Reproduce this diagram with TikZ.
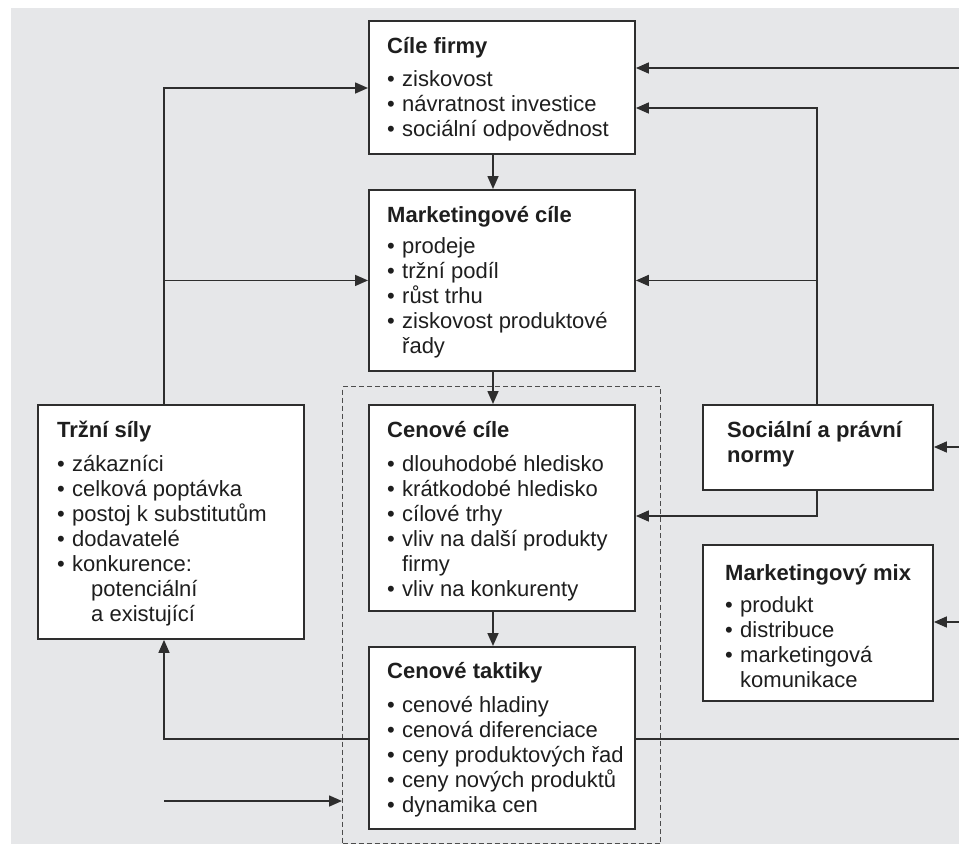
\documentclass[tikz,border=0pt]{standalone}
\usepackage{fontspec}
\setmainfont{Liberation Sans}
\usetikzlibrary{arrows.meta}
\definecolor{bg}{HTML}{E6E7E9}
\definecolor{ln}{HTML}{2E2E2E}
\definecolor{tx}{HTML}{1E1E1E}
\newcommand{\bl}{\makebox[15pt][l]{•}}
\newcommand{\ind}{\hspace*{15pt}}
\tikzset{
  box/.style={draw=ln, line width=1.9pt, fill=white, rectangle, inner sep=0pt, anchor=north west},
  txt/.style={anchor=base west, inner sep=0pt, text=tx, font=\fontsize{22}{25}\selectfont},
  arr/.style={draw=ln, line width=1.6pt, -{Triangle[length=13pt,width=11pt]}},
  ln/.style={draw=ln, line width=1.6pt},
  dbox/.style={draw=ln!85, line width=1.4pt, dash pattern=on 5pt off 3pt, rectangle, inner sep=0pt, anchor=north west}
}
\begin{document}
\begin{tikzpicture}[x=1pt,y=-1pt]
\useasboundingbox (0,0) rectangle (959,844);
\fill[bg] (11,8) rectangle (959,844);
% boxes
\node[dbox, minimum width=318pt, minimum height=457pt] (dash) at (342,386) {};
\node[box, minimum width=266pt, minimum height=133pt] (cf) at (368,20) {};
\node[box, minimum width=266pt, minimum height=181pt] (mc) at (368,189) {};
\node[box, minimum width=266pt, minimum height=206pt] (cc) at (368,404) {};
\node[box, minimum width=266pt, minimum height=182pt] (ct) at (368,646) {};
\node[box, minimum width=266pt, minimum height=234pt] (ts) at (37,404) {};
\node[box, minimum width=230pt, minimum height=85pt] (sp) at (702,404) {};
\node[box, minimum width=230pt, minimum height=156pt] (mm) at (702,544) {};
% texts
\node[txt] (tcf) at (387,53) {\begin{tabular}[t]{@{}l@{}}\textbf{Cíle firmy}\\[8pt]
\bl ziskovost\\ \bl návratnost investice\\ \bl sociální odpovědnost\end{tabular}};
\node[txt] (tmc) at (387,222) {\begin{tabular}[t]{@{}l@{}}\textbf{Marketingové cíle}\\[6pt]
\bl prodeje\\ \bl tržní podíl\\ \bl růst trhu\\ \bl ziskovost produktové\\ \ind řady\end{tabular}};
\node[txt] (tcc) at (387,437) {\begin{tabular}[t]{@{}l@{}}\textbf{Cenové cíle}\\[9pt]
\bl dlouhodobé hledisko\\ \bl krátkodobé hledisko\\ \bl cílové trhy\\ \bl vliv na další produkty\\ \ind firmy\\ \bl vliv na konkurenty\end{tabular}};
\node[txt] (tct) at (387,678) {\begin{tabular}[t]{@{}l@{}}\textbf{Cenové taktiky}\\[9pt]
\bl cenové hladiny\\ \bl cenová diferenciace\\ \bl ceny produktových řad\\ \bl ceny nových produktů\\ \bl dynamika cen\end{tabular}};
\node[txt] (tts) at (57,437) {\begin{tabular}[t]{@{}l@{}}\textbf{Tržní síly}\\[9pt]
\bl zákazníci\\ \bl celková poptávka\\ \bl postoj k substitutům\\ \bl dodavatelé\\ \bl konkurence:\\ \hspace*{34pt}potenciální\\ \hspace*{34pt}a existující\end{tabular}};
\node[txt] (tsp) at (727,437) {\begin{tabular}[t]{@{}l@{}}\textbf{Sociální a právní}\\ \textbf{normy}\end{tabular}};
\node[txt] (tmm) at (725,580) {\begin{tabular}[t]{@{}l@{}}\textbf{Marketingový mix}\\[7pt]
\bl produkt\\ \bl distribuce\\ \bl marketingová\\ \ind komunikace\end{tabular}};
% helper coordinates
\coordinate (lA) at (164,88);
\coordinate (cx) at (493,0);
\coordinate (rE) at (959,68);
\coordinate (rB) at (817,108);
\coordinate (rC) at (817,516);
\coordinate (rD) at (959,447);
\coordinate (rM) at (959,622);
\coordinate (rF) at (959,739);
\coordinate (lG) at (164,801);
% connectors
\draw[arr] (cf.south -| cx) -- (mc.north -| cx);
\draw[arr] (mc.south -| cx) -- (cc.north -| cx);
\draw[arr] (cc.south -| cx) -- (ct.north -| cx);
\draw[arr] (ts.north -| lA) |- (cf.west |- lA);
\draw[arr] (mc.west -| lA) -- (mc.west);
\draw[arr] (rE) -- (cf.east |- rE);
\draw[arr] (sp.north -| rB) |- (cf.east |- rB);
\draw[arr] (mc.east -| rB) -- (mc.east);
\draw[arr] (sp.south -| rC) |- (cc.east |- rC);
\draw[arr] (rD) -- (sp.east |- rD);
\draw[arr] (rM) -- (mm.east |- rM);
\draw[ln] (rF) -- (ct.east |- rF);
\draw[arr] (ct.west |- rF) -| (ts.south -| lA);
\draw[arr] (lG) -- (dash.west |- lG);
\end{tikzpicture}
\end{document}
